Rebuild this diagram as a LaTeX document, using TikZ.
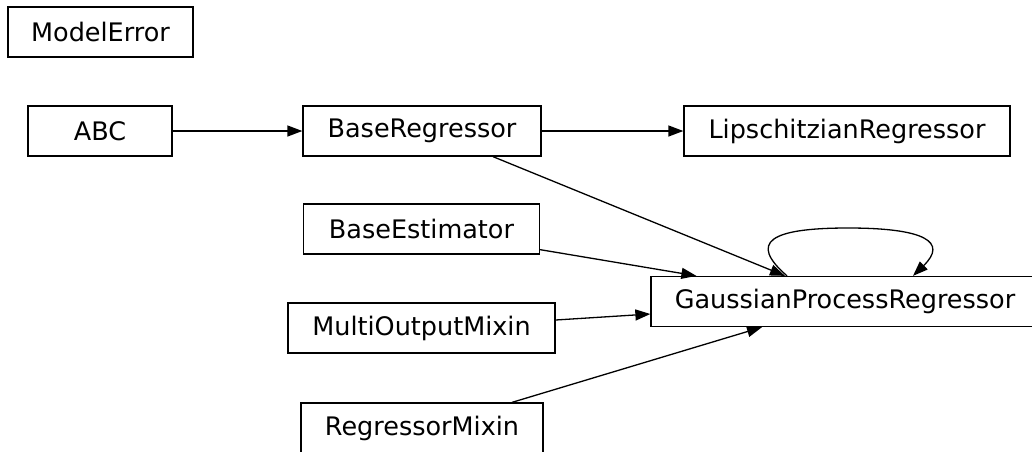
\documentclass[tikz,border=0pt]{standalone}
\usepackage{fontspec}
\setmainfont{DejaVu Sans}
\usetikzlibrary{arrows.meta}
\begin{document}
\begin{tikzpicture}[x=1pt,y=-1pt,
  cls/.style={draw=black, line width=1.3pt, rectangle, inner sep=0pt,
    minimum height=50pt, font=\fontsize{25.5}{30}\selectfont, text=black},
  dep/.style={draw=black, line width=1.3pt,
    -{Triangle[length=15pt,width=11pt]}}]
\useasboundingbox (0,0) rectangle (1032,451);
\clip (0,0) rectangle (1032,451);

% class boxes
\node[cls, minimum width=185pt] (me) at (100.5,32) {ModelError};
\node[cls, minimum width=144pt] (abc) at (100,131) {ABC};
\node[cls, minimum width=238pt] (br) at (422,131) {BaseRegressor};
\node[cls, minimum width=326pt] (lr) at (847,131) {LipschitzianRegressor};
\node[cls, minimum width=236pt] (be) at (421.5,229) {BaseEstimator};
\node[cls, minimum width=388pt] (gp) at (845,301.5) {GaussianProcessRegressor};
\node[cls, minimum width=267pt] (mo) at (421.5,328) {MultiOutputMixin};
\node[cls, minimum width=242pt] (rm) at (422,428) {RegressorMixin};

% inheritance edges
\draw[dep] (abc.east) -- (br.west);
\draw[dep] (br.east) -- (lr.west);
\draw[dep] ([xshift=71pt]br.south) -- ([xshift=-60pt]gp.north);
\draw[dep] ([yshift=5pt]be.south east) -- ([xshift=46pt]gp.north west);
\draw[dep] ([yshift=8pt]mo.east) -- ([yshift=-12.5pt]gp.west);
\draw[dep] ([xshift=90pt]rm.north) -- ([xshift=-83pt]gp.south);

% self loop on the top of the regressor
\coordinate (ls) at ([xshift=-58pt]gp.north);
\coordinate (le) at ([xshift=68pt]gp.north);
\draw[dep] (ls) .. controls (748,242) and (770,228) .. (848,228)
  .. controls (925,228) and (948,242) .. (le);
\end{tikzpicture}
\end{document}
